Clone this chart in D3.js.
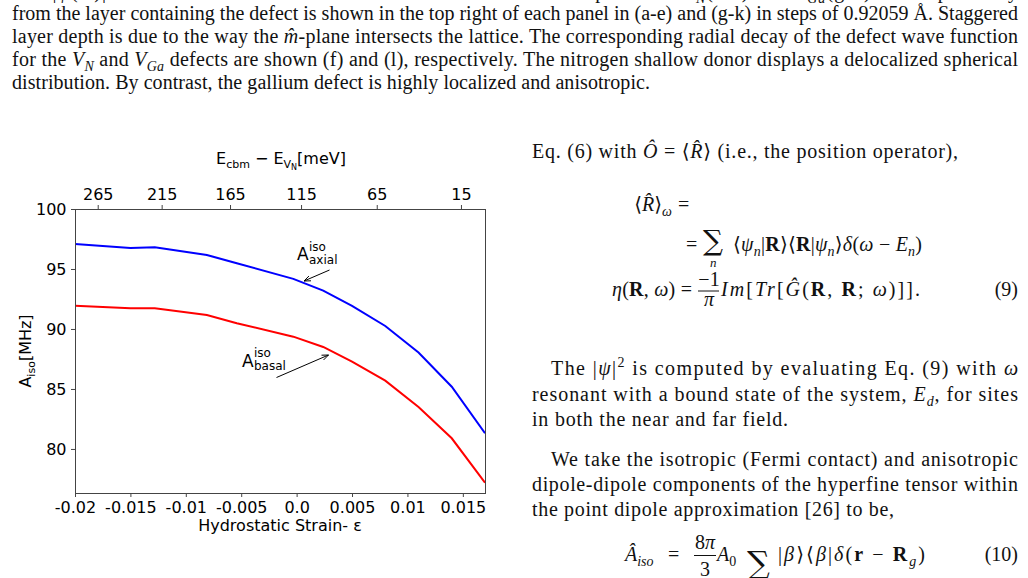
<!DOCTYPE html>
<html><head><meta charset="utf-8">
<script src="https://cdn.jsdelivr.net/npm/d3@7"></script>
<style>body{margin:0;background:#fff;} svg{display:block;}</style>
</head><body>
<script>
// ---------- chart data ----------
const strain = [-0.02, -0.015, -0.0128, -0.0081, -0.0054, -0.0003, 0.0024, 0.005, 0.008, 0.011, 0.014, 0.017];
const axialMHz = [97.08, 96.75, 96.81, 96.17, 95.48, 94.18, 93.2, 91.92, 90.25, 88.04, 85.19, 81.31];
const basalMHz = [91.94, 91.73, 91.73, 91.17, 90.48, 89.36, 88.5, 87.28, 85.69, 83.5, 80.89, 77.19];
const strainTicks = [-0.02, -0.015, -0.01, -0.005, 0, 0.005, 0.01, 0.015];
const strainTickLabels = ["-0.02", "-0.015", "-0.01", "-0.005", "0.0", "0.005", "0.01", "0.015"];
const energyTickStrain = [-0.01795, -0.01218, -0.00601, 0.0004, 0.00723, 0.01483];
const energyTickLabels = ["265", "215", "165", "115", "65", "15"];
const aisoTicks = [80, 85, 90, 95, 100];

// ---------- surrounding page text ----------
const topLines = [
  "The |*ψ*(#R#)|^{2} of the defect wave function on lattice sites of the *m̂*-plane for *V*_{N}(a-e) and *V*_{Ga}(g-k) at a depth away",
  "from the layer containing the defect is shown in the top right of each panel in (a-e) and (g-k) in steps of 0.92059 Å. Staggered",
  "layer depth is due to the way the *m̂*-plane intersects the lattice.  The corresponding radial decay of the defect wave function",
  "for the *V*_{N} and *V*_{Ga} defects are shown (f) and (l), respectively.  The nitrogen shallow donor displays a delocalized spherical",
  "distribution. By contrast, the gallium defect is highly localized and anisotropic."
];
const colLines = [
  "The |*ψ*|^{2} is computed by evaluating Eq.  (9) with *ω*",
  "resonant with a bound state of the system, *E*_{d}, for sites",
  "in both the near and far field.",
  "We take the isotropic (Fermi contact) and anisotropic",
  "dipole-dipole components of the hyperfine tensor within",
  "the point dipole approximation [26] to be,"
];

const W = 1028, H = 578;
const svg = d3.select("body").append("svg").attr("width", W).attr("height", H);
svg.append("rect").attr("width", W).attr("height", H).attr("fill", "#fff");

const SERIF = "'Liberation Serif', 'DejaVu Serif', serif";
const SANS = "'DejaVu Sans', sans-serif";

function rich(g, x, y, src, o = {}) {
  const fs = o.size || 20;
  const t = g.append("text").attr("x", x).attr("y", y)
    .attr("font-family", o.family || SERIF).attr("font-size", fs).attr("fill", o.fill || "#111");
  if (o.anchor) t.attr("text-anchor", o.anchor);
  const re = /(\*[^*]+\*|_\{[^}]*\}|_\[[^\]]*\]|\^\{[^}]*\}|#[^#]+#)/;
  const parts = src.split(re).filter(s => s !== "");
  let shift = 0;
  for (const p of parts) {
    let txt = p, italic = false, bold = false, target = 0, small = false;
    if (p.startsWith("*")) { txt = p.slice(1, -1); italic = true; }
    else if (p.startsWith("#")) { txt = p.slice(1, -1); bold = true; }
    else if (p.startsWith("_{")) { txt = p.slice(2, -1); italic = true; target = fs * 0.25; small = true; }
    else if (p.startsWith("_[")) { txt = p.slice(2, -1); target = fs * 0.25; small = true; }
    else if (p.startsWith("^{")) { txt = p.slice(2, -1); target = -fs * 0.4; small = true; }
    const ts = t.append("tspan").text(txt);
    if (target !== shift) { ts.attr("dy", target - shift); shift = target; }
    if (small) ts.attr("font-size", fs * 0.7);
    if (italic) ts.attr("font-style", "italic");
    if (bold) ts.attr("font-weight", "bold");
  }
  if (o.len) t.attr("textLength", o.len).attr("lengthAdjust", "spacing");
  return t;
}
function bigSum(x, y, size) {
  svg.append("text").attr("x", x).attr("y", y).attr("font-family", "'DejaVu Serif', serif")
    .attr("font-size", size).attr("fill", "#111").text("∑");
}
function hbar(x1, x2, yy) {
  svg.append("line").attr("x1", x1).attr("x2", x2).attr("y1", yy).attr("y2", yy).attr("stroke", "#111").attr("stroke-width", 1);
}

// top caption paragraph
const topBase = [-2, 19.5, 42.5, 65.5, 88.5];
topLines.forEach((s, i) => {
  rich(svg, 12, topBase[i], s, { len: i === 4 ? 638 : 1006 });
});

// right column
rich(svg, 532, 158, "Eq.  (6) with *Ô* = ⟨*R̂*⟩ (i.e., the position operator),", { len: 426 });
// eq (9)
rich(svg, 672, 211, "⟨*R̂*⟩_{ω}", { anchor: "end" });
rich(svg, 678, 211, "=");
rich(svg, 686, 251, "=");
bigSum(703, 250, 28);
rich(svg, 710, 267, "*n*", { size: 13 });
rich(svg, 733, 251, "⟨*ψ*_{n}|#R#⟩⟨#R#|*ψ*_{n}⟩*δ*(*ω* − *E*_{n})", { len: 189 });
rich(svg, 612, 296, "*η*(#R#, *ω*) =", { len: 80 });
rich(svg, 709, 286, "−1", { anchor: "middle" });
hbar(698, 719, 291);
rich(svg, 709, 306, "*π*", { anchor: "middle" });
rich(svg, 721, 296, "*Im*[*Tr*[*Ĝ*(#R#, #R#; *ω*)]].", { len: 199 });
rich(svg, 1018, 296, "(9)", { anchor: "end" });
// paragraphs
const colBase = [375, 401, 426, 466, 491, 516];
const colX = [551, 532, 532, 551, 532, 532];
const colLen = [467, 486, 256, 467, 486, 362];
colLines.forEach((s, i) => rich(svg, colX[i], colBase[i], s, { len: colLen[i] }));
// eq (10)
rich(svg, 625, 561, "*Â*_{iso}");
rich(svg, 668, 561, "=");
rich(svg, 705, 549, "8*π*", { anchor: "middle" });
hbar(694, 716, 555.5);
rich(svg, 705, 576, "3", { anchor: "middle" });
rich(svg, 717, 561, "*A*_[0]");
bigSum(747, 574, 32);
rich(svg, 778, 561, "|*β*⟩⟨*β*|*δ*(#r# − #R#_{g})", { len: 147 });
rich(svg, 1018, 561, "(10)", { anchor: "end" });

// ---------- chart ----------
const L = 75, R = 485, T = 209, B = 493;
const x = d3.scaleLinear().domain([-0.02, 0.017]).range([L, R]);
const y = d3.scaleLinear().domain([76.33, 100]).range([B, T]);
const AX = "#444";

function styleAxis(g) {
  g.select(".domain").remove();
  g.attr("font-family", SANS).attr("font-size", 16);
  g.selectAll(".tick line").attr("stroke", AX);
  g.selectAll(".tick text").attr("fill", "#000");
}
svg.append("g").attr("transform", `translate(0,${B})`)
  .call(d3.axisBottom(x).tickValues(strainTicks).tickFormat((d, i) => strainTickLabels[i]).tickSize(4).tickPadding(5))
  .call(styleAxis);
svg.append("g").attr("transform", `translate(0,${T})`)
  .call(d3.axisTop(x).tickValues(energyTickStrain).tickFormat((d, i) => energyTickLabels[i]).tickSize(4).tickPadding(5))
  .call(styleAxis);
svg.append("g").attr("transform", `translate(${L},0)`)
  .call(d3.axisLeft(y).tickValues(aisoTicks).tickFormat(d3.format("d")).tickSize(4).tickPadding(4.5))
  .call(styleAxis);

const plot = svg.append("g");
plot.append("clipPath").attr("id", "clip").append("rect").attr("x", L).attr("y", T).attr("width", R - L).attr("height", B - T);
const line = d3.line().x(d => x(d[0])).y(d => y(d[1]));
plot.append("path").datum(strain.map((s, i) => [s, axialMHz[i]])).attr("d", line)
  .attr("fill", "none").attr("stroke", "#0000ff").attr("stroke-width", 2).attr("clip-path", "url(#clip)");
plot.append("path").datum(strain.map((s, i) => [s, basalMHz[i]])).attr("d", line)
  .attr("fill", "none").attr("stroke", "#ff0000").attr("stroke-width", 2).attr("clip-path", "url(#clip)");

svg.append("rect").attr("x", L).attr("y", T).attr("width", R - L).attr("height", B - T)
  .attr("fill", "none").attr("stroke", AX).attr("stroke-width", 1).attr("shape-rendering", "crispEdges");

// annotations
function arrow(x1, y1, x2, y2) {
  const a = Math.atan2(y2 - y1, x2 - x1), h = 7, w = 0.38;
  svg.append("line").attr("x1", x1).attr("y1", y1).attr("x2", x2).attr("y2", y2).attr("stroke", "#000").attr("stroke-width", 1);
  const p1 = [x2 - h * Math.cos(a - w), y2 - h * Math.sin(a - w)];
  const p2 = [x2 - h * Math.cos(a + w), y2 - h * Math.sin(a + w)];
  svg.append("path").attr("d", `M${p1[0]},${p1[1]}L${x2},${y2}L${p2[0]},${p2[1]}`)
    .attr("fill", "none").attr("stroke", "#000").attr("stroke-width", 1);
}
function aLabel(x0, base, sub) {
  svg.append("text").attr("x", x0).attr("y", base).attr("font-family", SANS).attr("font-size", 17).attr("fill", "#000").text("A");
  svg.append("text").attr("x", x0 + 12).attr("y", base - 9.5).attr("font-family", SANS).attr("font-size", 12).attr("fill", "#000").text("iso");
  svg.append("text").attr("x", x0 + 12).attr("y", base + 3.5).attr("font-family", SANS).attr("font-size", 12).attr("fill", "#000").text(sub);
}
aLabel(297, 260, "axial");
arrow(329.5, 270, 304, 281);
aLabel(242, 366.5, "basal");
arrow(276.5, 377.5, 328.5, 355);

// axis titles
const yl = svg.append("text").attr("transform", "translate(31,351) rotate(-90)").attr("text-anchor", "middle")
  .attr("font-family", SANS).attr("font-size", 16).attr("fill", "#000");
yl.append("tspan").text("A");
yl.append("tspan").attr("font-size", 11).attr("dy", 4).text("iso");
yl.append("tspan").attr("dy", -4).text("[MHz]");

svg.append("text").attr("x", 280).attr("y", 531).attr("text-anchor", "middle")
  .attr("font-family", SANS).attr("font-size", 16).attr("fill", "#000").text("Hydrostatic Strain- ε");

const tl = svg.append("text").attr("x", 281).attr("y", 164).attr("text-anchor", "middle")
  .attr("font-family", SANS).attr("font-size", 16).attr("fill", "#000");
tl.append("tspan").text("E");
tl.append("tspan").attr("font-size", 11).attr("dy", 4).text("cbm");
tl.append("tspan").attr("dy", -4).text(" − E");
tl.append("tspan").attr("font-size", 11).attr("dy", 4).text("V");
tl.append("tspan").attr("font-size", 8).attr("dy", 2).text("N");
tl.append("tspan").attr("dy", -6).text("[meV]");
</script>
</body></html>
